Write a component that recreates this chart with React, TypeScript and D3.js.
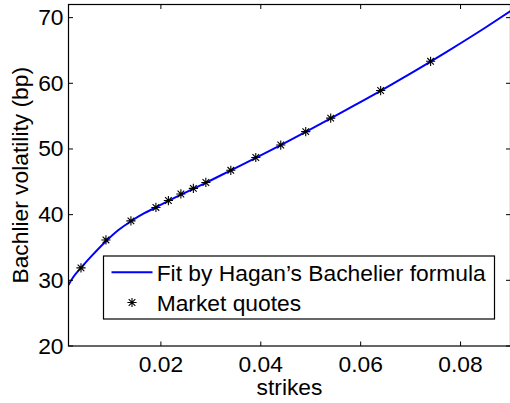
import React from 'react';
import * as d3 from 'd3';

// market quotes (strike, Bachelier vol in bp)
const quoteStrikes = [0.004, 0.009, 0.014, 0.019, 0.0215, 0.024, 0.0265, 0.029, 0.034, 0.039, 0.044, 0.049, 0.054, 0.064, 0.074];
const quoteVols = [31.9, 36.15, 39.05, 41.1, 42.15, 43.15, 44.0, 44.9, 46.75, 48.7, 50.6, 52.65, 54.7, 58.9, 63.35];

// fitted curve
const fitStrikes = [0.0015, 0.0025, 0.004, 0.006, 0.009, 0.0115, 0.014, 0.0165, 0.019, 0.024, 0.029, 0.034, 0.039, 0.044, 0.049, 0.054, 0.059, 0.064, 0.069, 0.074, 0.08, 0.085, 0.09];
const fitVols = [29.3, 30.55, 31.9, 33.6, 35.95, 37.65, 39.0, 40.15, 41.1, 43.05, 44.85, 46.75, 48.65, 50.6, 52.6, 54.65, 56.75, 58.85, 61.05, 63.3, 66.1, 68.5, 71.0];

const xTicks = [0.02, 0.04, 0.06, 0.08];
const yTicks = [20, 30, 40, 50, 60, 70];
const legendLabels = ['Fit by Hagan\u2019s Bachelier formula', 'Market quotes'];

const W = 510, H = 403;
const left = 68.5, right = 510.5, top = 4.5, bottom = 346;
const font = '"Liberation Sans", Arial, Helvetica, sans-serif';
const fs = 22.8;
const tickLen = 4.5;

const star = (cx: number, cy: number, r: number) => {
  const d = r * 0.72;
  return `M${cx - r},${cy}H${cx + r}M${cx},${cy - r}V${cy + r}` +
    `M${cx - d},${cy - d}L${cx + d},${cy + d}M${cx - d},${cy + d}L${cx + d},${cy - d}`;
};

export default function App() {
  const x = d3.scaleLinear().domain([0.0015, 0.09]).range([left, right]);
  const y = d3.scaleLinear().domain([20, 72]).range([bottom, top]);

  const line = d3.line<number>()
    .x((_, i) => x(fitStrikes[i]))
    .y((v) => y(v))
    .curve(d3.curveCatmullRom);

  return (
    <svg width={W} height={H} style={{ position: 'absolute', left: 0, top: 0, background: '#fff' }}
      fontFamily={font} fontSize={fs}>
      <rect x={0} y={0} width={W} height={H} fill="#fff" />
      <defs>
        <clipPath id="plot">
          <rect x={left} y={top} width={right - left} height={bottom - top} />
        </clipPath>
      </defs>

      <g clipPath="url(#plot)">
        <path d={line(fitVols) || ''} fill="none" stroke="#0000ff" strokeWidth={2} />
        {quoteStrikes.map((k, i) => (
          <path key={i} d={star(x(k), y(quoteVols[i]), 4.6)} stroke="#000" strokeWidth={1.1} fill="none" />
        ))}
      </g>

      {/* axes box */}
      <rect x={left} y={top} width={right - left} height={bottom - top} fill="none" stroke="#000" strokeWidth={1.2} />

      {xTicks.map((t) => (
        <g key={t}>
          <line x1={x(t)} x2={x(t)} y1={bottom} y2={bottom - tickLen} stroke="#000" />
          <line x1={x(t)} x2={x(t)} y1={top} y2={top + tickLen} stroke="#000" />
          <text x={x(t)} y={372} textAnchor="middle" fill="#000">{String(t)}</text>
        </g>
      ))}
      {yTicks.map((t) => (
        <g key={t}>
          <line x1={left} x2={left + tickLen} y1={y(t)} y2={y(t)} stroke="#000" />
          <line x1={right} x2={right - tickLen} y1={y(t)} y2={y(t)} stroke="#000" />
          <text x={63.5} y={y(t) + 7.5} textAnchor="end" fill="#000">{t}</text>
        </g>
      ))}

      <text x={(left + right) / 2} y={395} textAnchor="middle" fill="#000">strikes</text>
      <text transform={`translate(28.3,${(top + bottom) / 2}) rotate(-90)`} textAnchor="middle" fill="#000">
        Bachlier volatility (bp)
      </text>

      {/* legend */}
      <rect x={103.5} y={256} width={391} height={63} fill="#fff" stroke="#000" strokeWidth={1.2} />
      <line x1={111.5} x2={152.5} y1={272.3} y2={272.3} stroke="#0000ff" strokeWidth={2} />
      <path d={star(132, 302.5, 4.6)} stroke="#000" strokeWidth={1.1} fill="none" />
      <text x={156.7} y={281} fill="#000">{legendLabels[0]}</text>
      <text x={156.7} y={311} fill="#000">{legendLabels[1]}</text>
    </svg>
  );
}
